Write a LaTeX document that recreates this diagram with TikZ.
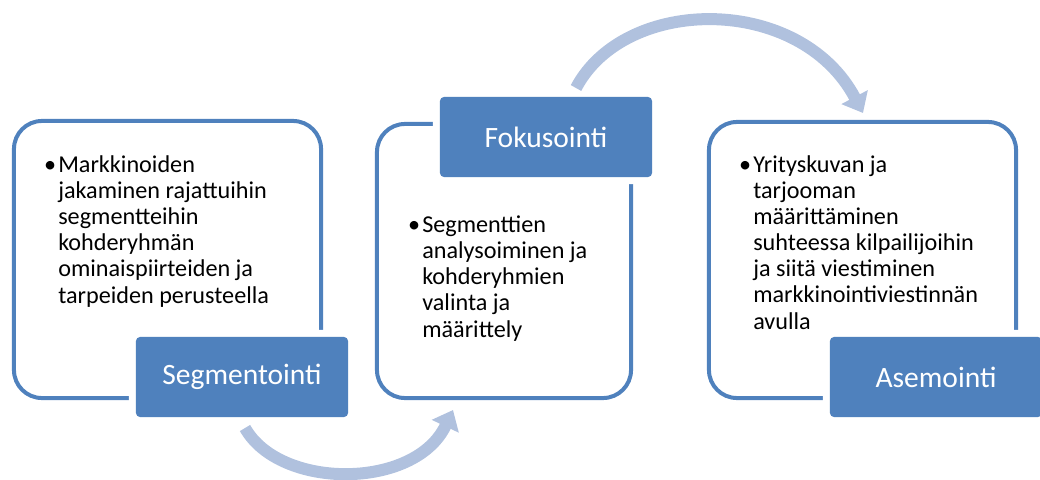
\documentclass[tikz,border=0pt]{standalone}
\usepackage{fontspec}
\setmainfont{Carlito}
\usetikzlibrary{arrows.meta}
\definecolor{boxblue}{RGB}{79,129,189}
\definecolor{arrowblue}{RGB}{176,193,222}

\begin{document}
\begin{tikzpicture}[x=0.025cm, y=-0.025cm,
  frame/.style = {draw=boxblue, line width=0.1cm, rounded corners=0.7cm, inner sep=0pt, outer sep=0pt},
  tag/.style = {fill=boxblue, rounded corners=0.1cm, preaction={draw=white, line width=0.35cm},
    minimum width=5.3cm, minimum height=2cm, inner sep=0pt, text=white, font=\fontsize{21}{24}\selectfont},
  item/.style = {anchor=base west, align=left, inner sep=0pt, font=\fontsize{17.2}{18.5}\selectfont},
  flowarrow/.style = {draw=arrowblue, line width=0.3cm, -{Triangle[length=0.45cm, width=0.72cm]}}]
\useasboundingbox (0,0) rectangle (1040,480);
% outer frames
\node [frame, minimum width=7.675cm, minimum height=6.925cm] (segframe) at (167.5,259.5) {};
\node [frame, minimum width=6.35cm, minimum height=6.85cm] (fokframe) at (504,261) {};
\node [frame, minimum width=7.675cm, minimum height=6.9cm] (aseframe) at (862.5,260) {};
% labels
\node [tag] (segtag) at (242,377) {Segmentointi};
\node [tag] (foktag) at (546,137) {Fokusointi};
\node [tag] (asetag) at (936,377) {Asemointi};
% bullet texts (placed by the baseline of their last line)
\node [item] (segtext) at (58,303) {\llap{\textbullet\hspace{1.5pt}}Markkinoiden\\jakaminen rajattuihin\\segmentteihin\\kohderyhmän\\ominaispiirteiden ja\\tarpeiden perusteella};
\node [item] (foktext) at (422,337) {\llap{\textbullet\hspace{1.5pt}}Segmenttien\\analysoiminen ja\\kohderyhmien\\valinta ja\\määrittely};
\node [item] (asetext) at (753,329) {\llap{\textbullet\hspace{1.5pt}}Yrityskuvan ja\\tarjooman\\määrittäminen\\suhteessa kilpailijoihin\\ja siitä viestiminen\\markkinointiviestinnän\\avulla};
% curved arrows
\coordinate (lowstart) at (245,428);
\coordinate (lowend) at (453,410);
\coordinate (highstart) at (576,88);
\coordinate (highend) at (863,113);
\draw [flowarrow] (lowstart) .. controls (280,490) and (415,490) .. (lowend);
\draw [flowarrow] (highstart) .. controls (625,-5) and (800,-6) .. (highend);
\end{tikzpicture}
\end{document}
